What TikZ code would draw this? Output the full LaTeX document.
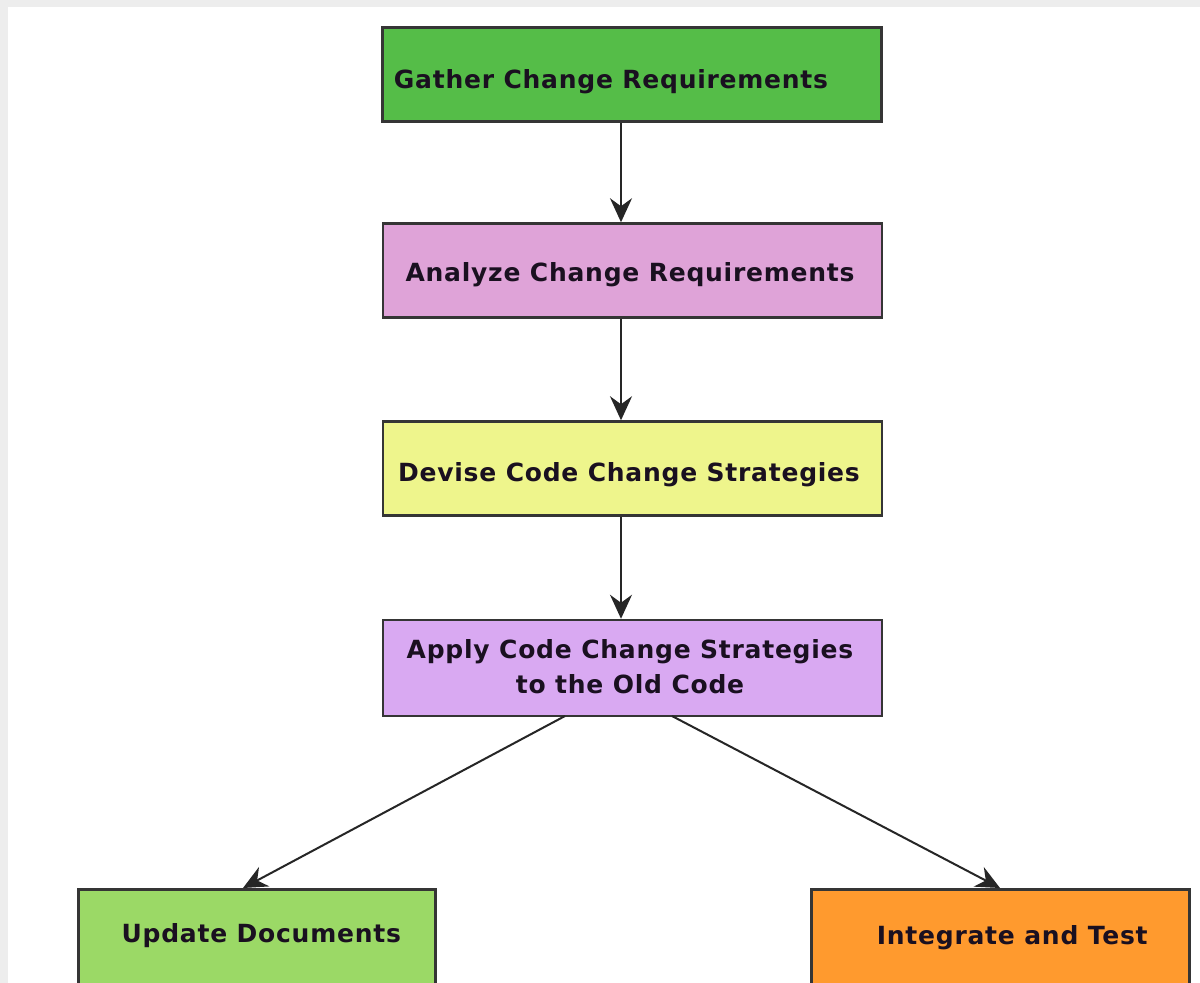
\documentclass[tikz,border=0pt]{standalone}
\usepackage{fontspec}
\setmainfont{DejaVu Sans}
\newfontfamily\boxfont[LetterSpace=3]{DejaVu Sans}
\usetikzlibrary{arrows.meta}
\definecolor{gathergreen}{HTML}{55BD48}
\definecolor{analyzepink}{HTML}{DFA3D8}
\definecolor{deviseyellow}{HTML}{EEF58C}
\definecolor{applylav}{HTML}{D9A9F2}
\definecolor{updategreen}{HTML}{9BD966}
\definecolor{integorange}{HTML}{FF9A2E}
\definecolor{txtdark}{HTML}{1A1020}
\definecolor{edgedark}{HTML}{353535}
% place text: dx = horizontal shift of text centre, dy = baseline raise
\newcommand{\placetxt}[3]{\raisebox{#2}[0pt][0pt]{\makebox[0pt]{\hspace*{#1}#3}}}
\tikzset{
  box/.style={draw=edgedark, line width=2.5pt, minimum width=499pt, minimum height=94pt,
    inner sep=0pt, align=center, text=txtdark,
    font=\boxfont\fontsize{25}{35}\selectfont\bfseries},
  flow/.style={draw=black!85, line width=2pt, -{Stealth[length=24pt,width=22pt,inset=8pt]}},
}
\begin{document}
\begin{tikzpicture}[x=1pt,y=-1pt]
\fill[black!7] (0,0) rectangle (1200,983);
\fill[white] (8,7) rectangle (1200,983);
\useasboundingbox (0,0) rectangle (1200,983);
\node[box, fill=gathergreen] (gather) at (632,74.5) {\placetxt{-42pt}{-13.6pt}{Gather Change Requirements}};
\node[box, fill=analyzepink] (analyze) at (632.5,270.5) {\placetxt{-5pt}{-10.6pt}{Analyze Change Requirements}};
\node[box, fill=deviseyellow] (devise) at (632.5,468.5) {\placetxt{-7pt}{-13.1pt}{Devise Code Change Strategies}};
\node[box, fill=applylav, minimum height=96pt] (apply) at (632.5,668) {\placetxt{-5pt}{-25pt}{\begin{tabular}[b]{@{}c@{}}Apply Code Change Strategies\\to the Old Code\end{tabular}}};
\node[box, fill=updategreen, minimum width=357pt, minimum height=95pt, anchor=north west] (update) at (77,888) {\placetxt{9pt}{-5.6pt}{Update Documents}};
\node[box, fill=integorange, minimum width=378pt, minimum height=95pt, anchor=north west] (integrate) at (810,888) {\placetxt{24pt}{-7.6pt}{Integrate and Test}};
\draw[flow] (gather.south -| 621,0) -- (analyze.north -| 621,0);
\draw[flow] (analyze.south -| 621,0) -- (devise.north -| 621,0);
\draw[flow] (devise.south -| 621,0) -- (apply.north -| 621,0);
\coordinate (aL) at (565,716);
\coordinate (aR) at (672,716);
\coordinate (uT) at (243,888);
\coordinate (iT) at (1000,888);
\draw[flow] (aL) -- (uT);
\draw[flow] (aR) -- (iT);
\end{tikzpicture}
\end{document}
